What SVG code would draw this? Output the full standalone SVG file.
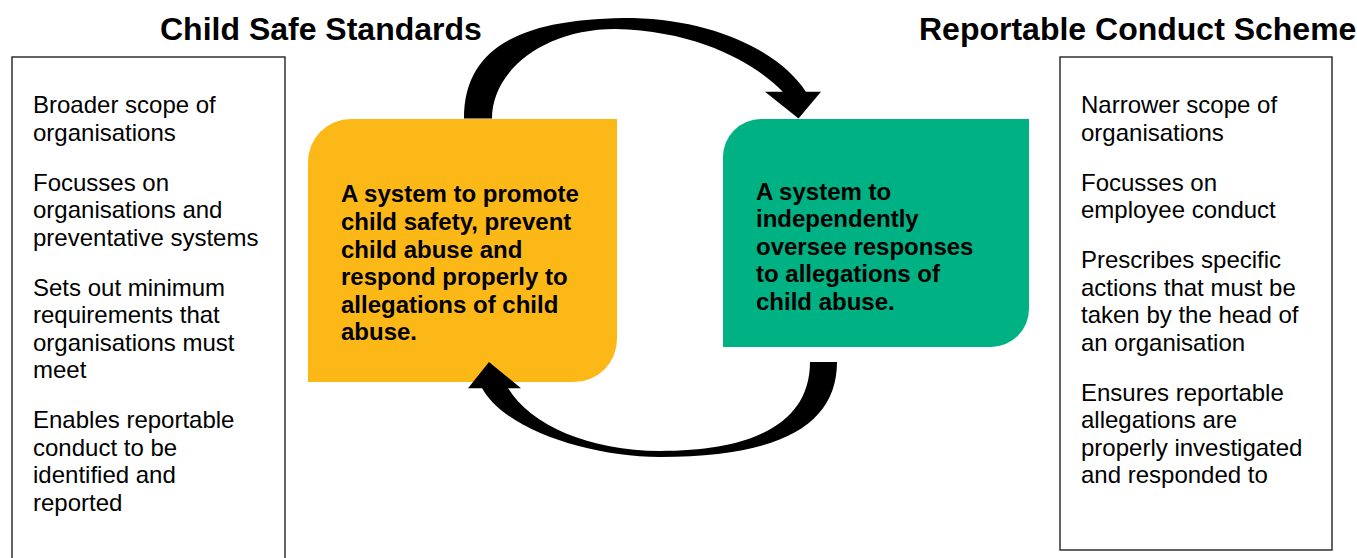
<svg xmlns="http://www.w3.org/2000/svg" width="1357" height="558" viewBox="0 0 1357 558">
<style>
.title{font-family:"Liberation Sans",Arial,sans-serif;font-weight:bold;font-size:32px;fill:#000}
.body{font-family:"Liberation Sans",Arial,sans-serif;font-size:24px;fill:#000}
.bold{font-family:"Liberation Sans",Arial,sans-serif;font-weight:bold;font-size:24px;fill:#000}
.panel{fill:#fff;stroke:#222;stroke-width:1.4}
.arrow{fill:#000}
</style>
<rect width="1357" height="558" fill="#fff"/>
<g id="title-left"><text class="title" x="160" y="40">Child Safe Standards</text></g>
<g id="title-right"><text class="title" x="919" y="40">Reportable Conduct Scheme</text></g>
<g id="panel-left">
<rect class="panel" x="12" y="57" width="273" height="510"/>
<text class="body" x="33" y="113">Broader scope of</text>
<text class="body" x="33" y="140.5">organisations</text>
<text class="body" x="33" y="190.5">Focusses on</text>
<text class="body" x="33" y="218">organisations and</text>
<text class="body" x="33" y="245.5">preventative systems</text>
<text class="body" x="33" y="295.5">Sets out minimum</text>
<text class="body" x="33" y="323">requirements that</text>
<text class="body" x="33" y="350.5">organisations must</text>
<text class="body" x="33" y="378">meet</text>
<text class="body" x="33" y="428">Enables reportable</text>
<text class="body" x="33" y="455.5">conduct to be</text>
<text class="body" x="33" y="483">identified and</text>
<text class="body" x="33" y="510.5">reported</text>
</g>
<g id="panel-right">
<rect class="panel" x="1060" y="57" width="272" height="493"/>
<text class="body" x="1081" y="113">Narrower scope of</text>
<text class="body" x="1081" y="140.5">organisations</text>
<text class="body" x="1081" y="190.5">Focusses on</text>
<text class="body" x="1081" y="218">employee conduct</text>
<text class="body" x="1081" y="268">Prescribes specific</text>
<text class="body" x="1081" y="295.5">actions that must be</text>
<text class="body" x="1081" y="323">taken by the head of</text>
<text class="body" x="1081" y="350.5">an organisation</text>
<text class="body" x="1081" y="400.5">Ensures reportable</text>
<text class="body" x="1081" y="428">allegations are</text>
<text class="body" x="1081" y="455.5">properly investigated</text>
<text class="body" x="1081" y="483">and responded to</text>
</g>
<g id="box-css">
<path d="M308,162 A43,43 0 0 1 351,119 H617 V339 A43,43 0 0 1 574,382 H308 Z" fill="#FCB817"/>
<text class="bold" x="341" y="202.3">A system to promote</text>
<text class="bold" x="341" y="229.9">child safety, prevent</text>
<text class="bold" x="341" y="257.5">child abuse and</text>
<text class="bold" x="341" y="285.1">respond properly to</text>
<text class="bold" x="341" y="312.7">allegations of child</text>
<text class="bold" x="341" y="340.3">abuse.</text>
</g>
<g id="box-rcs">
<path d="M723,157 A38,38 0 0 1 761,119 H1029 V309 A38,38 0 0 1 991,347 H723 Z" fill="#00B184"/>
<text class="bold" x="756" y="199.5">A system to</text>
<text class="bold" x="756" y="227">independently</text>
<text class="bold" x="756" y="254.5">oversee responses</text>
<text class="bold" x="756" y="282">to allegations of</text>
<text class="bold" x="756" y="309.5">child abuse.</text>
</g>
<g id="connectors">
<path class="arrow" d="M464,118.5 C464,42 530,18 633,18 C715,20 780,52 806,92 L783,92 C760,68 705,31 615,29 C545,29 492,70 492,118.5 Z"/>
<polygon class="arrow" points="765,91.7 821,91.7 798.5,118.5"/>
<path class="arrow" d="M837,362 C837,425 780,457 660,457 C590,457 505,430 482,388 L508,388 C530,425 590,451 660,451 C750,451 810,425 810,362 Z"/>
<polygon class="arrow" points="468,388.3 521,388.3 489,362"/>
</g>
</svg>
